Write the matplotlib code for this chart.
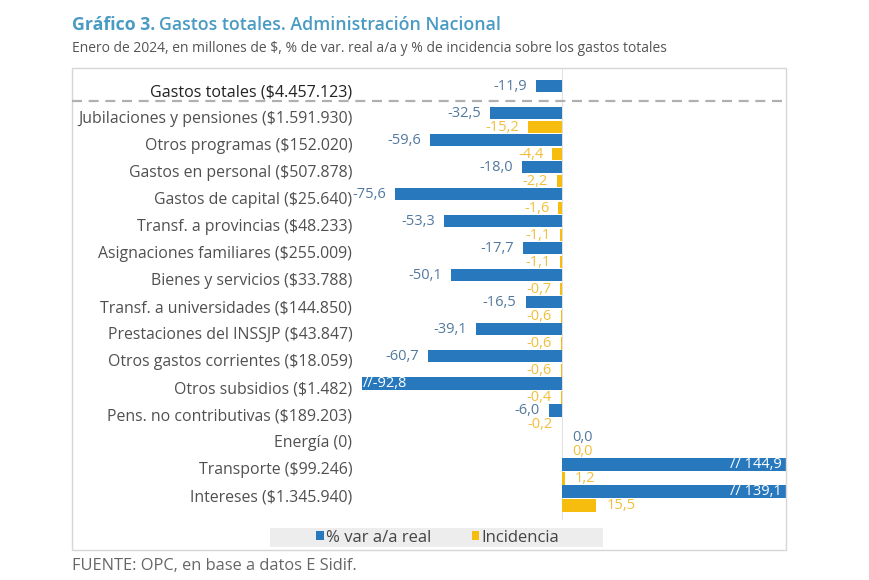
import matplotlib
matplotlib.use("Agg")
import matplotlib.pyplot as plt
from matplotlib.lines import Line2D
from matplotlib.patches import Rectangle, Patch
from matplotlib.transforms import ScaledTranslation

plt.rcParams['font.family'] = ['Open Sans', 'DejaVu Sans']

categories = ["Gastos totales ($4.457.123)", "Jubilaciones y pensiones ($1.591.930)",
              "Otros programas ($152.020)", "Gastos en personal ($507.878)",
              "Gastos de capital ($25.640)", "Transf. a provincias ($48.233)",
              "Asignaciones familiares ($255.009)", "Bienes y servicios ($33.788)",
              "Transf. a universidades ($144.850)", "Prestaciones del INSSJP ($43.847)",
              "Otros gastos corrientes ($18.059)", "Otros subsidios ($1.482)",
              "Pens. no contributivas ($189.203)", "Energía (0)",
              "Transporte ($99.246)", "Intereses ($1.345.940)"]
var_real = [-11.9, -32.5, -59.6, -18.0, -75.6, -53.3, -17.7, -50.1, -16.5,
            -39.1, -60.7, -92.8, -6.0, 0.0, 144.9, 139.1]
incidencia = [None, -15.2, -4.4, -2.2, -1.6, -1.1, -1.1, -0.7, -0.6, -0.6,
              -0.6, -0.4, -0.2, 0.0, 1.2, 15.5]
legend_labels = ["% var a/a real", "Incidencia"]

BLUE = "#2878bd"
YELLOW = "#f6bd0f"
BLUE_TXT = "#52799e"
YEL_TXT = "#f2bf3a"

W, H = 870, 580
fig = plt.figure(figsize=(8.7, 5.8), dpi=100)

def fx(px): return px / W
def fy(py): return 1 - py / H

# frame
fig.add_artist(Rectangle((fx(72), fy(550)), fx(786) - fx(72), fy(68) - fy(550),
                         transform=fig.transFigure, fill=False, edgecolor="#d6d6d6", lw=1.0))

ax = fig.add_axes([fx(362), fy(520), fx(786) - fx(362), fy(68) - fy(520)])
XMIN, XMAX = -90.5, 101.4
ax.set_xlim(XMIN, XMAX)
ax.set_ylim(15.8, -0.93)
for s in ax.spines.values():
    s.set_visible(False)
ax.set_xticks([])

ypos = list(range(len(categories)))
off = 0.26
h = 0.46
ax.axvline(0, color="#e2e2e2", lw=0.8, zorder=0)

blue_y = [y - off for y in ypos]
ax.barh(blue_y, var_real, height=h, color=BLUE, zorder=2)
inc_y = [ypos[i] + off for i in range(len(ypos)) if incidencia[i] is not None]
inc_v = [v for v in incidencia if v is not None]
ax.barh(inc_y, inc_v, height=h, color=YELLOW, zorder=2)

def fmt(v):
    return f"{v:.1f}".replace(".", ",")

FS_VAL = 10.5
for y, v in zip(blue_y, var_real):
    if v < XMIN:
        ax.annotate("//" + fmt(v), (XMIN, y), xytext=(1, 0), textcoords="offset pixels",
                    ha="left", va="center", color="white", fontsize=FS_VAL, zorder=3)
    elif v > XMAX:
        ax.annotate("// " + fmt(v), (XMAX, y), xytext=(-4, 0), textcoords="offset pixels",
                    ha="right", va="center", color="white", fontsize=FS_VAL, zorder=3)
    elif v < 0:
        ax.annotate(fmt(v), (v, y), xytext=(-9, 0), textcoords="offset pixels",
                    ha="right", va="center", color=BLUE_TXT, fontsize=FS_VAL)
    else:
        ax.annotate(fmt(v), (v, y), xytext=(10, 0), textcoords="offset pixels",
                    ha="left", va="center", color=BLUE_TXT, fontsize=FS_VAL)
for y, v in zip(inc_y, inc_v):
    if v < 0:
        ax.annotate(fmt(v), (v, y), xytext=(-9, 0), textcoords="offset pixels",
                    ha="right", va="center", color=YEL_TXT, fontsize=FS_VAL)
    else:
        ax.annotate(fmt(v), (v, y), xytext=(10, 0), textcoords="offset pixels",
                    ha="left", va="center", color=YEL_TXT, fontsize=FS_VAL)

ax.set_yticks(ypos)
ax.set_yticklabels(categories, fontsize=11.4, color="#505050")
ax.tick_params(axis="y", length=0, pad=7)
tl = ax.get_yticklabels()
tl[0].set_color("#222222")
tl[0].set_fontsize(11.6)
tl[0].set_fontweight("medium")
shift = ScaledTranslation(0, 3 / 100, fig.dpi_scale_trans)
for lab in tl:
    lab.set_transform(lab.get_transform() + shift)

# dashed separator
fig.add_artist(Line2D([fx(72), fx(786)], [fy(101), fy(101)], transform=fig.transFigure,
                      color="#b0b0b0", lw=1.6, linestyle=(0, (4.5, 3))))

# legend
fig.add_artist(Rectangle((fx(270), fy(547)), fx(603) - fx(270), fy(528) - fy(547),
                         transform=fig.transFigure, facecolor="#ededed", edgecolor="none"))
handles = [Patch(facecolor=BLUE), Patch(facecolor=YELLOW)]
fig.legend(handles, legend_labels, loc="center", bbox_to_anchor=(fx(438), fy(537.5)),
           ncol=2, frameon=False, handlelength=0.45, handleheight=0.45,
           handletextpad=0.15, columnspacing=2.4, labelcolor="#444444",
           prop={"size": 12})

# titles
t1 = fig.text(fx(72), fy(25), "Gráfico 3.", fontsize=12.8, fontweight="bold",
              color="#4a9bc4", va="center", ha="left")
fig.canvas.draw()
bb = t1.get_window_extent()
fig.text(bb.x1 / W + fx(4), fy(25), "Gastos totales. Administración Nacional", fontsize=12.8,
         fontweight="semibold", color="#4a9bc4", va="center", ha="left")
fig.text(fx(72), fy(48), "Enero de 2024, en millones de $, % de var. real a/a y % de incidencia sobre los gastos totales",
         fontsize=10, color="#555555", va="center", ha="left")
fig.text(fx(72), fy(566), "FUENTE: OPC, en base a datos E Sidif.", fontsize=11.8,
         color="#666666", va="center", ha="left")

fig.savefig("out.png", dpi=100)
